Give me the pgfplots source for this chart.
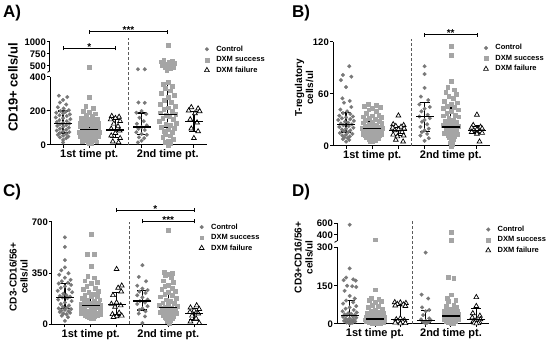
\documentclass[border=0pt]{standalone}
\usepackage{pgfplots}
\pgfplotsset{compat=1.18}
\usepackage{pgfplotstable}
\usepackage{fontspec}
\setmainfont{Liberation Sans}
\definecolor{ctrlgray}{RGB}{120,120,120}
\definecolor{succgray}{RGB}{165,165,165}
\definecolor{dashgray}{RGB}{90,90,90}
\tikzset{
ctrlstyle/.style={only marks, mark=*, mark size=1.9pt, color=ctrlgray, mark options={draw=ctrlgray, fill=ctrlgray, line width=0.2pt}},
succstyle/.style={only marks, mark=square*, mark size=1.9pt, color=succgray, mark options={draw=succgray, fill=succgray, line width=0.2pt}},
failstyle/.style={only marks, mark=triangle*, mark size=2.8pt, color=black, mark options={draw=black, fill=white, line width=0.7pt}},
}
\pgfplotsset{legend image code/.code={\draw[#1] plot coordinates {(2.5pt,0pt)};}}
\pgfplotsset{
base/.style={scale only axis, anchor=south west, xmin=0.5, xmax=6.5, clip=false,
 axis x line=bottom, axis y line=left, axis line style={-, line width=1pt},
 every outer x axis line/.append style={-}, every outer y axis line/.append style={-},
 tick style={line width=1pt, black}, tick align=outside, major tick length=3pt,
 xtick={1,2,3,4,5,6}, xticklabels={,1st time pt.,,,2nd time pt.,},
 x tick label style={font=\fontsize{11}{11}\selectfont\bfseries, inner sep=1.5pt},
 y tick label style={font=\fontsize{9.5}{10}\selectfont\bfseries, inner sep=1pt},
 /pgf/number format/assume math mode=true, /pgf/number format/1000 sep={},
 legend style={draw=none, fill=none, inner sep=0pt, outer sep=0pt, font=\fontsize{7.5}{8}\selectfont\bfseries, row sep=3.5pt, column sep=7pt, nodes={inner sep=0pt, text height=5.5pt, text depth=1.5pt}},
 legend cell align=left},
upper/.style={base, axis x line=none, xtick=\empty},
medbar/.style={black, only marks, mark=-, mark size=9pt, mark options={line width=1.3pt, black}, forget plot,
 /pgfplots/error bars/y dir=both, /pgfplots/error bars/y explicit,
 /pgfplots/error bars/error bar style={line width=1.3pt, black},
 /pgfplots/error bars/error mark options={rotate=90, mark size=5pt, line width=1.3pt, black}},
}
% ---------------- Panel A ----------------
\pgfplotstableread{
x y
0.84 290
1.16 282
1.00 265
0.88 250
1.12 238
0.80 222
1.02 215
1.22 205
0.90 200
1.10 196
0.74 190
1.00 186
1.26 180
0.86 175
1.14 170
0.72 162
1.00 158
1.28 152
0.86 146
1.14 140
0.76 135
1.00 130
1.24 126
0.88 122
1.12 118
0.78 112
1.00 108
1.22 102
0.88 96
1.12 90
0.76 85
1.00 80
1.24 76
0.88 70
1.12 65
0.80 60
1.00 55
1.20 50
0.88 45
1.12 40
1.00 30
1.00 15
}\ctrlAa
\pgfplotstableread{
x y
2.00 485
2.00 280
1.86 230
2.14 215
1.78 200
2.00 192
2.22 185
1.88 175
2.12 168
1.70 160
2.30 155
2.00 150
1.84 145
2.16 140
1.66 132
2.34 128
2.00 124
1.80 118
2.20 114
1.64 108
2.36 105
1.90 100
2.10 97
1.72 92
2.28 90
2.00 87
1.82 84
2.18 81
1.62 78
2.38 75
1.92 72
2.08 70
1.74 67
2.26 64
2.00 62
1.84 58
2.16 55
1.66 52
2.34 50
1.92 47
2.08 44
1.76 41
2.24 38
2.00 35
1.86 31
2.14 28
1.72 24
2.28 20
1.94 16
2.06 12
2.00 8
}\succAa
\pgfplotstableread{
x y
2.86 170
3.14 165
3.00 158
2.82 150
3.18 140
2.94 125
3.10 110
2.84 95
3.16 85
3.00 70
2.84 55
3.18 40
2.90 20
3.12 15
}\failAa
\pgfplotstableread{
x y
3.86 432
4.12 432
3.88 250
4.12 248
4.00 200
3.80 190
4.18 182
3.92 160
4.08 140
3.82 125
4.20 115
4.00 105
3.88 95
4.12 88
3.80 75
4.00 65
4.20 60
3.90 45
4.10 40
4.00 25
3.86 15
}\ctrlAb
\pgfplotstableread{
x y
5.00 940
4.84 625
5.16 610
4.74 590
5.04 575
5.26 560
4.90 545
5.14 530
4.78 515
5.00 500
5.22 485
4.88 465
5.10 445
4.96 420
5.00 372
4.82 360
5.18 348
4.90 335
5.10 320
4.76 305
5.24 292
5.00 280
4.86 265
5.14 252
4.72 240
5.28 230
5.00 220
4.84 210
5.16 200
4.70 190
5.30 182
4.94 176
5.06 168
4.80 160
5.20 150
4.68 140
5.32 130
4.92 122
5.08 115
4.76 105
5.24 98
5.00 90
4.84 82
5.16 75
4.90 65
5.10 55
4.80 45
5.20 35
5.00 25
4.90 15
5.10 8
5.00 0
}\succAb
\pgfplotstableread{
x y
5.90 222
6.16 214
5.80 202
6.22 198
6.04 186
5.86 150
6.12 132
5.90 96
6.16 80
6.00 40
}\failAb
% ---------------- Panel B ----------------
\pgfplotstableread{
x y
1.12 92
0.88 82
1.20 80
0.80 76
1.00 68
0.86 55
1.14 52
0.92 50
1.20 45
0.78 42
1.04 40
0.88 38
1.16 37
0.74 35
1.26 34
1.00 33
0.84 32
1.16 31
0.70 30
1.30 29
0.96 28
1.08 27
0.80 26
1.22 25
0.90 24
1.10 23
0.74 22
1.28 21
1.00 20
0.84 19
1.16 18
0.92 17
1.08 16
0.76 15
1.24 14
1.00 13
0.86 12
1.14 11
0.94 10
1.06 9
0.88 8
1.12 7
1.00 5
}\ctrlBa
\pgfplotstableread{
x y
1.84 48
2.16 47
1.70 46
2.30 45
2.00 44
1.86 42
2.14 40
1.76 38
2.24 36
2.00 35
1.66 34
2.34 33
1.88 32
2.12 31
1.74 30
2.26 29
2.00 28
1.64 27
2.36 26
1.86 25
2.14 24
1.72 23
2.28 22
2.00 22
1.62 21
2.38 21
1.86 20
2.14 20
1.74 19
2.26 19
2.00 18
1.64 18
2.36 17
1.88 17
2.12 16
1.76 16
2.24 15
2.00 15
1.66 14
2.34 14
1.86 13
2.14 13
1.74 12
2.26 12
2.00 11
1.88 11
2.12 10
1.76 10
2.24 9
2.00 9
1.88 8
2.12 7
2.00 6
1.90 5
}\succBa
\pgfplotstableread{
x y
3.00 35
2.80 25
3.20 24
2.90 23
3.10 22
2.78 21
3.22 20
3.00 19
2.86 18
3.14 16
2.80 13
3.20 12
2.96 11
2.90 7
3.18 5
}\failBa
\pgfplotstableread{
x y
4.00 92
4.00 83
4.00 67
3.86 57
4.14 53
3.80 48
4.20 45
4.00 43
3.88 40
4.12 36
3.80 34
4.20 32
4.00 30
3.90 28
4.10 25
3.84 22
4.16 20
4.00 18
3.90 16
4.10 14
3.84 12
4.16 9
4.00 6
}\ctrlBb
\pgfplotstableread{
x y
5.00 115
5.00 105
5.00 75
4.88 68
5.12 65
4.80 62
5.20 60
4.92 58
5.08 55
4.76 52
5.24 50
5.00 48
4.86 46
5.14 45
4.72 44
5.28 42
5.00 40
4.84 38
5.16 36
4.70 35
5.30 34
4.92 32
5.08 30
4.78 29
5.22 28
5.00 27
4.86 26
5.14 25
4.70 24
5.30 23
4.94 22
5.06 21
4.80 20
5.20 19
5.00 18
4.86 17
5.14 16
4.74 15
5.26 14
5.00 13
4.88 12
5.12 11
4.92 10
5.08 8
5.00 6
4.96 4
5.04 2
5.00 0
}\succBb
\pgfplotstableread{
x y
6.00 36
5.86 24
6.14 22
5.80 21
6.20 20
6.00 19
5.88 18
6.12 17
5.80 16
6.20 15
6.00 14
6.10 5
}\failBb
% ---------------- Panel C ----------------
\pgfplotstableread{
x y
1.00 595
1.00 530
1.00 440
1.00 390
0.86 370
1.14 350
0.78 340
1.00 320
1.22 305
0.88 295
1.12 285
0.76 280
1.24 270
1.00 260
0.84 250
1.16 240
0.72 230
1.28 220
0.94 210
1.06 200
0.80 195
1.20 190
0.90 185
1.10 180
0.74 170
1.26 160
1.00 150
0.84 140
1.16 130
0.92 120
1.08 115
0.76 110
1.24 105
1.00 100
0.86 95
1.14 90
0.80 85
1.20 80
0.94 75
1.06 70
0.88 60
1.12 50
1.00 25
}\ctrlCa
\pgfplotstableread{
x y
2.00 615
1.86 480
2.14 480
2.00 400
1.88 330
2.12 320
1.76 300
2.24 290
2.00 280
1.84 260
2.16 250
1.70 240
2.30 230
1.92 220
2.08 210
1.76 200
2.24 195
2.00 190
1.66 180
2.34 170
1.86 165
2.14 160
1.72 155
2.28 150
2.00 145
1.62 140
2.38 135
1.88 130
2.12 125
1.74 120
2.26 115
2.00 110
1.64 105
2.36 100
1.86 95
2.14 90
1.72 85
2.28 80
2.00 78
1.62 75
2.38 72
1.88 70
2.12 68
1.76 65
2.24 62
2.00 60
1.86 58
2.14 55
1.92 50
2.08 45
2.00 40
}\succCa
\pgfplotstableread{
x y
3.00 378
3.20 265
3.06 250
3.18 225
2.86 200
3.00 150
2.80 140
3.16 130
2.94 120
3.10 80
2.84 70
3.20 60
3.00 55
2.88 50
}\failCa
\pgfplotstableread{
x y
4.00 405
3.86 325
4.14 295
3.80 265
4.00 245
4.20 235
3.88 225
4.12 215
3.80 200
4.00 185
4.20 170
3.90 160
4.10 150
3.80 140
4.20 125
4.00 110
3.88 100
4.12 90
3.86 75
4.10 55
4.00 10
}\ctrlCb
\pgfplotstableread{
x y
5.00 645
4.84 360
5.16 350
5.00 345
4.88 335
5.12 320
4.80 300
5.20 290
5.00 270
4.86 260
5.14 250
4.74 240
5.26 230
5.00 220
4.86 210
5.14 200
4.70 190
5.30 180
4.92 170
5.08 160
4.78 150
5.22 145
5.00 140
4.66 130
5.34 125
4.88 120
5.12 115
4.74 110
5.26 105
5.00 100
4.84 95
5.16 90
4.70 85
5.30 80
4.94 75
5.06 70
4.80 65
5.20 60
5.00 55
4.86 50
5.14 45
4.92 40
5.08 30
4.96 20
5.04 10
}\succCb
\pgfplotstableread{
x y
6.10 130
5.86 115
6.20 105
6.00 95
5.84 85
6.16 75
5.92 60
6.08 40
5.86 20
6.20 10
}\failCb
% ---------------- Panel D ----------------
\pgfplotstableread{
x y
1.00 575
1.00 218
0.86 182
1.14 175
0.76 172
1.24 170
0.90 150
1.10 148
1.26 145
0.80 130
1.00 110
1.20 100
0.86 92
1.14 85
0.74 80
1.26 70
1.00 65
0.84 60
1.16 55
0.72 50
1.28 45
0.94 42
1.06 40
0.80 38
1.20 35
0.88 33
1.12 30
0.74 28
1.26 25
1.00 22
0.84 20
1.16 18
0.92 16
1.08 14
0.78 12
1.22 10
1.00 8
0.88 6
1.12 5
0.96 4
1.04 3
1.00 2
}\ctrlDa
\pgfplotstableread{
x y
2.00 320
2.00 135
1.86 100
2.14 97
1.76 95
2.24 90
2.00 85
1.88 75
2.12 70
1.72 65
2.28 60
2.00 55
1.84 50
2.16 48
1.68 45
2.32 42
1.92 40
2.08 38
1.76 35
2.24 32
2.00 30
1.64 28
2.36 26
1.86 24
2.14 22
1.72 20
2.28 19
2.00 18
1.62 17
2.38 16
1.88 15
2.12 14
1.76 13
2.24 12
2.00 11
1.66 10
2.34 9
1.88 8
2.12 7
1.78 6
2.22 5
2.00 4
1.90 3
2.10 2
}\succDa
\pgfplotstableread{
x y
2.78 85
3.00 84
3.22 82
2.88 78
3.12 76
2.80 72
3.20 70
3.00 22
2.84 18
3.16 15
2.90 10
3.10 8
2.80 5
3.20 3
3.00 2
}\failDa
\pgfplotstableread{
x y
4.00 280
3.84 115
4.10 100
3.86 65
4.14 55
4.00 50
3.90 35
4.14 22
3.82 18
4.20 15
4.00 12
3.88 10
4.12 8
3.94 6
4.06 5
4.00 3
}\ctrlDb
\pgfplotstableread{
x y
5.00 455
5.00 315
4.90 185
5.10 180
5.00 115
4.84 100
5.18 95
4.90 90
5.10 75
4.80 70
5.20 65
5.00 60
4.86 58
5.14 55
4.74 52
5.26 50
5.00 48
4.86 45
5.14 42
4.72 40
5.28 38
4.92 35
5.08 33
4.78 30
5.22 28
5.00 26
4.86 24
5.14 22
4.72 20
5.28 18
4.94 16
5.06 14
4.82 12
5.18 10
5.00 8
4.90 6
5.10 4
5.00 2
}\succDb
\pgfplotstableread{
x y
6.00 105
6.00 70
5.86 42
6.14 32
5.84 25
6.16 18
6.00 15
5.88 10
6.12 8
5.92 5
6.08 3
6.00 2
}\failDb

\begin{document}
\begin{tikzpicture}
\path[use as bounding box] (0pt,0pt) rectangle (550pt,345pt);
% ======== A lower ========
\begin{axis}[base, at={(50pt,200pt)}, width=157pt, height=68pt, ymin=0, ymax=400, ytick={0,200,400},
 legend style={at={(axis description cs:0.984,1.46)}, anchor=north west}]
\addlegendimage{ctrlstyle}\addlegendentry{Control}
\addlegendimage{succstyle}\addlegendentry{DXM success}
\addlegendimage{failstyle}\addlegendentry{DXM failure}
\draw[dashgray, dash pattern=on 3pt off 2pt, line width=1pt] (axis cs:3.5,0) -- (axis cs:3.5,629);
\addplot[ctrlstyle, restrict y to domain=0:400, forget plot] table {\ctrlAa};
\addplot[succstyle, restrict y to domain=0:400, forget plot] table {\succAa};
\addplot[failstyle, forget plot] table {\failAa};
\addplot[ctrlstyle, restrict y to domain=0:400, forget plot] table {\ctrlAb};
\addplot[succstyle, restrict y to domain=0:400, forget plot] table {\succAb};
\addplot[failstyle, forget plot] table {\failAb};
\addplot[medbar] coordinates {(1,127) += (0,73) -= (0,57)};
\addplot[medbar] coordinates {(2,90) += (0,32) -= (0,30)};
\addplot[medbar] coordinates {(3,88) += (0,62) -= (0,43)};
\addplot[medbar] coordinates {(4,105) += (0,83) -= (0,45)};
\addplot[medbar] coordinates {(5,180) += (0,175) -= (0,75)};
\addplot[medbar] coordinates {(6,140) += (0,55) -= (0,60)};
\end{axis}
% ======== A upper ========
\begin{axis}[upper, at={(50pt,274.2pt)}, width=157pt, height=28.8pt, ymin=400, ymax=1000, ytick={500,750,1000}]
\addplot[succstyle, restrict y to domain=400:1100] table {\succAa};
\addplot[ctrlstyle, restrict y to domain=400:1100] table {\ctrlAb};
\addplot[succstyle, restrict y to domain=400:1100] table {\succAb};
\draw[line width=0.8pt] (rel axis cs:0,0) -- ++(-2.5pt,-1.5pt);
\draw[line width=0.8pt] (axis cs:1,869) -- (axis cs:3,869);
\draw[line width=0.8pt] (axis cs:1,869) ++(0pt,-2pt) -- ++(0pt,4pt);
\draw[line width=0.8pt] (axis cs:3,869) ++(0pt,-2pt) -- ++(0pt,4pt);
\node[font=\fontsize{10}{10}\selectfont\bfseries, anchor=base, inner sep=0pt] at ([yshift=-2pt]axis cs:2,869) {*};
\draw[line width=0.8pt] (axis cs:2,1215) -- (axis cs:5,1215);
\draw[line width=0.8pt] (axis cs:2,1215) ++(0pt,-2pt) -- ++(0pt,4pt);
\draw[line width=0.8pt] (axis cs:5,1215) ++(0pt,-2pt) -- ++(0pt,4pt);
\node[font=\fontsize{10}{10}\selectfont\bfseries, anchor=base, inner sep=0pt] at ([yshift=-2pt]axis cs:3.5,1215) {***};
\end{axis}
% ======== B ========
\begin{axis}[base, at={(333pt,199pt)}, width=157pt, height=104pt, ymin=0, ymax=120, ytick={0,60,120},
 legend style={at={(axis description cs:0.959,0.976)}, anchor=north west}]
\addlegendimage{ctrlstyle}\addlegendentry{Control}
\addlegendimage{succstyle}\addlegendentry{DXM success}
\addlegendimage{failstyle}\addlegendentry{DXM failure}
\draw[dashgray, dash pattern=on 3pt off 2pt, line width=1pt] (axis cs:3.5,0) -- (axis cs:3.5,123);
\addplot[ctrlstyle, forget plot] table {\ctrlBa};
\addplot[succstyle, forget plot] table {\succBa};
\addplot[failstyle, forget plot] table {\failBa};
\addplot[ctrlstyle, forget plot] table {\ctrlBb};
\addplot[succstyle, forget plot] table {\succBb};
\addplot[failstyle, forget plot] table {\failBb};
\addplot[medbar] coordinates {(1,25) += (0,14) -= (0,9)};
\addplot[medbar] coordinates {(2,20) += (0,8) -= (0,7)};
\addplot[medbar] coordinates {(3,18) += (0,4) -= (0,6)};
\addplot[medbar] coordinates {(4,34) += (0,16) -= (0,17)};
\addplot[medbar] coordinates {(5,22) += (0,22) -= (0,7)};
\addplot[medbar] coordinates {(6,18) += (0,5) -= (0,3)};
\draw[line width=0.8pt] (axis cs:4,128.4) -- (axis cs:6,128.4);
\draw[line width=0.8pt] (axis cs:4,128.4) ++(0pt,-2pt) -- ++(0pt,4pt);
\draw[line width=0.8pt] (axis cs:6,128.4) ++(0pt,-2pt) -- ++(0pt,4pt);
\node[font=\fontsize{10}{10}\selectfont\bfseries, anchor=base, inner sep=0pt] at ([yshift=-2pt]axis cs:5,128.4) {**};
\end{axis}
% ======== C ========
\begin{axis}[base, at={(52pt,20.5pt)}, width=155pt, height=102.5pt, ymin=0, ymax=700, ytick={0,350,700},
 legend style={at={(axis description cs:0.950,0.985)}, anchor=north west}]
\addlegendimage{ctrlstyle}\addlegendentry{Control}
\addlegendimage{succstyle}\addlegendentry{DXM success}
\addlegendimage{failstyle}\addlegendentry{DXM failure}
\draw[dashgray, dash pattern=on 3pt off 2pt, line width=1pt] (axis cs:3.5,0) -- (axis cs:3.5,703);
\addplot[ctrlstyle, forget plot] table {\ctrlCa};
\addplot[succstyle, forget plot] table {\succCa};
\addplot[failstyle, forget plot] table {\failCa};
\addplot[ctrlstyle, forget plot] table {\ctrlCb};
\addplot[succstyle, forget plot] table {\succCb};
\addplot[failstyle, forget plot] table {\failCb};
\addplot[medbar] coordinates {(1,185) += (0,97) -= (0,75)};
\addplot[medbar] coordinates {(2,130) += (0,80) -= (0,50)};
\addplot[medbar] coordinates {(3,138) += (0,80) -= (0,73)};
\addplot[medbar] coordinates {(4,160) += (0,70) -= (0,60)};
\addplot[medbar] coordinates {(5,118) += (0,94) -= (0,33)};
\addplot[medbar] coordinates {(6,77) += (0,33) -= (0,47)};
\draw[line width=0.8pt] (axis cs:3,781) -- (axis cs:6,781);
\draw[line width=0.8pt] (axis cs:3,781) ++(0pt,-2pt) -- ++(0pt,4pt);
\draw[line width=0.8pt] (axis cs:6,781) ++(0pt,-2pt) -- ++(0pt,4pt);
\node[font=\fontsize{10}{10}\selectfont\bfseries, anchor=base, inner sep=0pt] at ([yshift=-2pt]axis cs:4.5,781) {*};
\draw[line width=0.8pt] (axis cs:4,705) -- (axis cs:6,705);
\draw[line width=0.8pt] (axis cs:4,705) ++(0pt,-2pt) -- ++(0pt,4pt);
\draw[line width=0.8pt] (axis cs:6,705) ++(0pt,-2pt) -- ++(0pt,4pt);
\node[font=\fontsize{10}{10}\selectfont\bfseries, anchor=base, inner sep=0pt] at ([yshift=-2pt]axis cs:5,705) {***};
\end{axis}
% ======== D lower ========
\begin{axis}[base, at={(337pt,21pt)}, width=152pt, height=76.5pt, ymin=0, ymax=300, ytick={0,150,300},
 legend style={at={(axis description cs:0.979,1.281)}, anchor=north west}]
\addlegendimage{ctrlstyle}\addlegendentry{Control}
\addlegendimage{succstyle}\addlegendentry{DXM success}
\addlegendimage{failstyle}\addlegendentry{DXM failure}
\draw[dashgray, dash pattern=on 3pt off 2pt, line width=1pt] (axis cs:3.5,0) -- (axis cs:3.5,408);
\addplot[ctrlstyle, restrict y to domain=0:300, forget plot] table {\ctrlDa};
\addplot[succstyle, restrict y to domain=0:300, forget plot] table {\succDa};
\addplot[failstyle, forget plot] table {\failDa};
\addplot[ctrlstyle, restrict y to domain=0:300, forget plot] table {\ctrlDb};
\addplot[succstyle, restrict y to domain=0:300, forget plot] table {\succDb};
\addplot[failstyle, forget plot] table {\failDb};
\addplot[medbar] coordinates {(1,33) += (0,59) -= (0,23)};
\addplot[medbar] coordinates {(2,20) += (0,20) -= (0,10)};
\addplot[medbar] coordinates {(3,18) += (0,59) -= (0,13)};
\addplot[medbar] coordinates {(4,13) += (0,39) -= (0,8)};
\addplot[medbar] coordinates {(5,31) += (0,26) -= (0,19)};
\addplot[medbar] coordinates {(6,18) += (0,43) -= (0,13)};
\end{axis}
% ======== D upper ========
\begin{axis}[upper, at={(337pt,104.15pt)}, width=152pt, height=17.55pt, ymin=300, ymax=600, ytick={400,600}]
\addplot[ctrlstyle, restrict y to domain=301:700] table {\ctrlDa};
\addplot[succstyle, restrict y to domain=301:700] table {\succDa};
\addplot[succstyle, restrict y to domain=301:700] table {\succDb};
\draw[line width=0.8pt] (rel axis cs:0,0) -- ++(-2.5pt,-1.5pt);
\end{axis}
% ======== labels ========
\node[anchor=west, font=\fontsize{17}{17}\selectfont\bfseries, inner sep=0pt] at (3pt,331.5pt) {A)};
\node[anchor=west, font=\fontsize{17}{17}\selectfont\bfseries, inner sep=0pt] at (292pt,331.5pt) {B)};
\node[anchor=west, font=\fontsize{17}{17}\selectfont\bfseries, inner sep=0pt] at (3pt,152.5pt) {C)};
\node[anchor=west, font=\fontsize{17}{17}\selectfont\bfseries, inner sep=0pt] at (292pt,152.5pt) {D)};
\node[rotate=90, font=\fontsize{13}{14}\selectfont\bfseries, inner sep=0pt] at (13pt,257.5pt) {CD19+ cells/ul};
\node[rotate=90, align=center, font=\fontsize{10}{11}\selectfont\bfseries, inner sep=0pt] at (304pt,257pt) {T-regulatory\\cells/ul};
\node[rotate=90, align=center, font=\fontsize{10}{11}\selectfont\bfseries, inner sep=0pt] at (18.5pt,68pt) {CD3-CD16/56+\\cells/ul};
\node[rotate=90, align=center, font=\fontsize{10}{11}\selectfont\bfseries, inner sep=0pt] at (303.5pt,87.5pt) {CD3+CD16/56+\\cells/ul};
\end{tikzpicture}
\end{document}
